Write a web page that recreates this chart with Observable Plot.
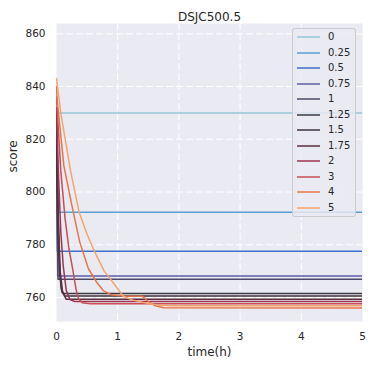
<!DOCTYPE html>
<html>
<head>
<meta charset="utf-8">
<script src="https://cdn.jsdelivr.net/npm/d3@7"></script>
<script src="https://cdn.jsdelivr.net/npm/@observablehq/plot@0.6"></script>
<style>
  body { margin: 0; background: #ffffff; }
  #wrap { position: relative; width: 372px; height: 365px; font-family: "DejaVu Sans", sans-serif; }
  #legend { position: absolute; left: 292px; top: 28px; width: 64px; height: 189px;
    background: rgba(234,234,242,0.8); border: 1px solid #cccccc; border-radius: 3px; box-sizing: border-box; }
  .row { position: absolute; left: 0; height: 14px; width: 64px; }
  .row svg { position: absolute; left: 3px; top: 0; }
  .row span { position: absolute; left: 35px; top: 0; font-size: 10px; line-height: 14px; color: #262626; }
</style>
</head>
<body>
<div id="wrap"></div>
<script>
// series labels and colours
const series = ["0", "0.25", "0.5", "0.75", "1", "1.25", "1.5", "1.75", "2", "3", "4", "5"];
const colors = ["#94c6d9", "#5a9fd3", "#3f6fcc", "#5e5fa6", "#4b4a69", "#3a3a42", "#3f3238", "#5c3040",
                "#9e3450", "#c84d55", "#e8754a", "#f4a56e"];

// time (h) and score values per series
const t_0 = [0, 5];                      const v_0 = [830, 830];
const t_025 = [0, 0.01, 5];              const v_025 = [822, 792.3, 792.3];
const t_05 = [0, 0.015, 5];              const v_05 = [820, 777.5, 777.5];
const t_075 = [0, 0.02, 5];              const v_075 = [818, 768.2, 768.2];
const t_1 = [0, 0.025, 5];               const v_1 = [815, 766.9, 766.9];
const t_125 = [0, 0.02, 0.05, 0.08, 0.12, 5];      const v_125 = [826, 790, 770, 763, 761.5, 761.5];
const t_15 = [0, 0.025, 0.055, 0.09, 0.14, 5];     const v_15 = [827, 790, 769, 762, 760.6, 760.6];
const t_175 = [0, 0.03, 0.06, 0.1, 0.16, 5];       const v_175 = [829, 790, 770, 762, 759.3, 759.3];
const t_2 = [0, 0.03, 0.07, 0.11, 0.16, 0.22, 0.3, 5];
const v_2 = [832, 808, 785, 772, 762.6, 759.2, 758.5, 758.5];
const t_3 = [0, 0.07, 0.14, 0.2, 0.27, 0.32, 0.36, 0.42, 0.55, 5];
const v_3 = [836, 808, 790, 779, 770, 763, 759.5, 758, 757.6, 757.6];
const t_4 = [0, 0.01, 0.12, 0.25, 0.38, 0.52, 0.65, 0.77, 0.9, 1.1, 1.4, 1.5, 1.6, 1.75, 5];
const v_4 = [840, 835, 810, 795, 781, 771, 766, 762.5, 761, 760.6, 760.5, 758.5, 757, 756.1, 756.0];
const t_5 = [0, 0.07, 0.23, 0.37, 0.5, 0.62, 0.78, 0.98, 1.09, 1.25, 1.42, 1.64, 1.9, 5];
const v_5 = [843, 830, 808, 792.3, 784, 777.5, 770, 764, 760.5, 759, 758.1, 757.2, 756.9, 756.9];

const times = [t_0, t_025, t_05, t_075, t_1, t_125, t_15, t_175, t_2, t_3, t_4, t_5];
const values = [v_0, v_025, v_05, v_075, v_1, v_125, v_15, v_175, v_2, v_3, v_4, v_5];

const xTicks = [0, 1, 2, 3, 4, 5];
const yTicks = [760, 780, 800, 820, 840, 860];

const rows = [];
series.forEach((s, i) => times[i].forEach((t, j) => rows.push({series: s, t, v: values[i][j]})));

const ink = "#262626";
const chart = Plot.plot({
  width: 372, height: 365,
  marginLeft: 56, marginRight: 10, marginTop: 23, marginBottom: 44,
  style: {fontFamily: "DejaVu Sans, sans-serif", color: ink, background: "white"},
  x: {domain: [0, 5], label: null},
  y: {domain: [750.9, 863.9], label: null},
  color: {domain: series, range: colors},
  marks: [
    Plot.frame({fill: "#eaeaf2", stroke: null}),
    Plot.ruleX(xTicks.slice(1, -1), {stroke: "white", strokeWidth: 1, strokeDasharray: "7,3"}),
    Plot.ruleY(yTicks, {stroke: "white", strokeWidth: 1, strokeDasharray: "7,3"}),
    Plot.line(rows, {x: "t", y: "v", z: "series", stroke: "series", strokeWidth: 1.5, clip: true}),
    Plot.axisX({ticks: xTicks, tickFormat: d => String(d), tickSize: 0, tickPadding: 11, fontSize: 10.5, label: null}),
    Plot.axisY({ticks: yTicks, tickFormat: d => String(d), tickSize: 0, tickPadding: 11, fontSize: 10.5, label: null}),
    Plot.text(["DSJC500.5"], {frameAnchor: "top", dy: -11, fontSize: 12, fill: ink}),
    Plot.text(["time(h)"], {frameAnchor: "bottom", dy: 34, fontSize: 12, fill: ink}),
    Plot.text(["score"], {frameAnchor: "left", dx: -43, rotate: -90, fontSize: 12, fill: ink})
  ]
});

const wrap = document.getElementById("wrap");
wrap.appendChild(chart);

const legend = document.createElement("div");
legend.id = "legend";
series.forEach((s, i) => {
  const row = document.createElement("div");
  row.className = "row";
  row.style.top = (1 + i * 15.5) + "px";
  row.innerHTML = `<svg width="24" height="14"><line x1="1" x2="24" y1="7" y2="7" stroke="${colors[i]}" stroke-width="1.5"/></svg><span>${s}</span>`;
  legend.appendChild(row);
});
wrap.appendChild(legend);
</script>
</body>
</html>
